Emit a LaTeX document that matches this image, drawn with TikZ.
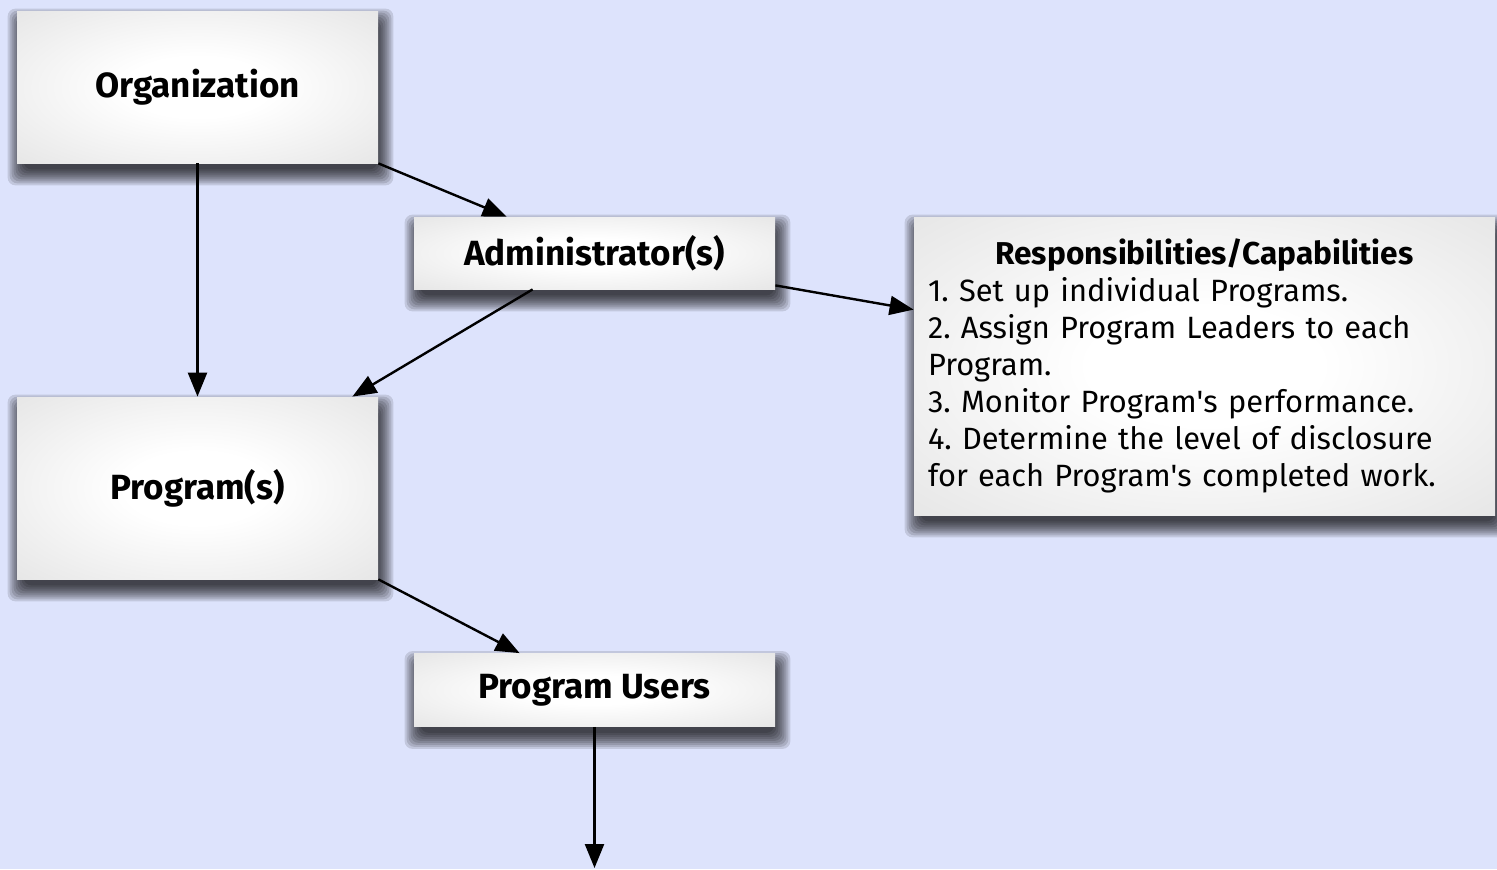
\documentclass[tikz,border=0pt]{standalone}
\usepackage{fontspec}
\setmainfont{Fira Sans}
\usetikzlibrary{arrows.meta, positioning, calc, backgrounds}
\definecolor{backblue}{RGB}{221,227,252}
\pgfdeclareradialshading{boxshade}{\pgfpoint{0bp}{0bp}}{color(0bp)=(white); color(10bp)=(white); color(50bp)=(black!15)}

\begin{document}
\frenchspacing
\begin{tikzpicture}
		[
	x=0.5pt, y=-0.5pt,
	>={Triangle[length=12pt,width=9.5pt]},
	elem/.style={rectangle,shade,shading=boxshade,align=center,inner sep=0pt,font=\fontsize{17.5}{21}\selectfont\bfseries},
	shadowlayer/.style={fill=black,opacity=0.12,rounded corners=4pt},
	link/.style={->,line width=1.2pt}
	]
		\useasboundingbox (0,0) rectangle (1497,869);
		\node (org) [elem,minimum width=180.5pt,minimum height=76pt] at (197.5,87) {Organization};
		\node (adm) [elem,minimum width=180.5pt,minimum height=36pt] at (594.5,253) {Administrator(s)};
		\node (prg) [elem,minimum width=180.5pt,minimum height=91pt] at (197.5,488) {Program(s)};
		\node (usr) [elem,minimum width=180.5pt,minimum height=36.5pt] at (594.5,690) {Program Users};
		\node (res) [elem,font=\fontsize{15.4}{18.5}\selectfont,align=left,text width=276.5pt,minimum height=149pt,inner xsep=7pt] at (1204.5,366)
			{\makebox[\linewidth]{\fontsize{15.8}{18.5}\selectfont\bfseries Responsibilities/Capabilities}\\
			1. Set up individual Programs.\\
			2. Assign Program Leaders to each\\
			Program.\\
			3. Monitor Program\textquotesingle s performance.\\
			4. Determine the level of disclosure\\
			for each Program\textquotesingle s completed work.};
		\coordinate (out) at (594.5,868);
	
		% soft drop shadows behind the boxes
		\begin{scope}[on background layer]
			\fill [backblue] (0,0) rectangle (1497,869);
			\foreach \n in {org,adm,prg,usr,res}
				\foreach \r in {-4,-2,...,12}
					\fill [shadowlayer] ($(\n.north west)+(3-\r,10-\r)$) rectangle ($(\n.south east)+(3+\r,10+\r)$);
		\end{scope}
	
		\draw [link] (org) -- (prg);
		\draw [link] (org.south east) -- ($(adm.north west)+(93,0)$);
		\draw [link] ($(adm.south west)+(119,0)$) -- ($(prg.north east)+(-26,0)$);
		\draw [link] ($(adm.south east)+(0,-4)$) -- ($(res.north west)+(0,93)$);
		\draw [link] (prg.south east) -- ($(usr.north west)+(106,0)$);
		\draw [link] (usr) -- (out);
	\end{tikzpicture}
\end{document}
